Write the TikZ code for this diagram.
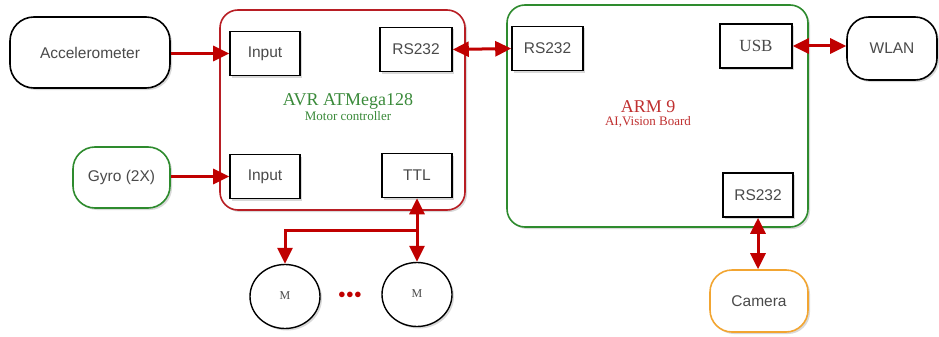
\documentclass[tikz,border=0pt]{standalone}
\usepackage{fontspec}
\setmainfont{Liberation Serif}
\newfontfamily\arialf{Liberation Sans}
\usetikzlibrary{arrows.meta,shadows,shapes.geometric}
\definecolor{conred}{HTML}{C00000}
\definecolor{avrred}{HTML}{B81E24}
\definecolor{boxgreen}{HTML}{2E8B2E}
\definecolor{txtgreen}{HTML}{3A8A3A}
\definecolor{armred}{HTML}{C03030}
\definecolor{camorange}{HTML}{F2A531}
\definecolor{txtgray}{HTML}{4A4A4A}
\tikzset{
  shadowed/.style={drop shadow={shadow xshift=2pt,shadow yshift=-2pt,fill=black!25,opacity=.6}},
  term/.style={draw,line width=1.6pt,rounded corners=24pt,fill=white,shadowed,
    font=\arialf\fontsize{15.5}{17}\selectfont,text=txtgray,inner sep=0pt},
  board/.style={draw,line width=1.6pt,rounded corners=18pt,fill=white,shadowed,inner sep=0pt},
  port/.style={draw=black,line width=1.6pt,fill=white,shadowed,minimum width=70pt,minimum height=44pt,
    inner sep=0pt,font=\arialf\fontsize{15.5}{17}\selectfont,text=txtgray},
  motor/.style={ellipse,draw=black,line width=1.4pt,fill=white,shadowed,minimum width=70pt,minimum height=64pt,
    inner sep=0pt,font=\fontsize{12}{14}\selectfont,text=txtgray},
  link/.style={draw=conred,line width=3pt,-{Triangle[length=16pt,width=15pt]}},
  dlink/.style={draw=conred,line width=3pt,{Triangle[length=16pt,width=15pt]}-{Triangle[length=16pt,width=15pt]}},
}
\begin{document}
\begin{tikzpicture}[x=1pt,y=-1pt]
\useasboundingbox (0,0) rectangle (939,337);
% boards
\node[board,draw=avrred,minimum width=245pt,minimum height=200pt] (avr) at (342.5,110) {};
\node[board,draw=boxgreen,minimum width=301pt,minimum height=222pt] (arm) at (657.5,116) {};
\node[text=txtgreen,align=center,inner sep=0pt] (avrt) at (348,107)
  {{\fontsize{18}{20}\selectfont AVR ATMega128}\\[1pt]{\fontsize{13}{14}\selectfont Motor controller}};
\node[text=armred,align=center,inner sep=0pt] (armt) at (648,114)
  {{\fontsize{18}{20}\selectfont ARM 9}\\[1pt]{\fontsize{13}{14}\selectfont AI,Vision Board}};
% terminals
\node[term,draw=black,minimum width=160pt,minimum height=71pt] (acc) at (90,52.5) {Accelerometer};
\node[term,draw=boxgreen,minimum width=97pt,minimum height=61pt,rounded corners=22pt] (gyro) at (121.5,177.5) {Gyro (2X)};
\node[term,draw=black,minimum width=90pt,minimum height=63pt,rounded corners=22pt] (wlan) at (892,48.5) {WLAN};
\node[term,draw=camorange,minimum width=98pt,minimum height=62pt,rounded corners=22pt] (cam) at (759,301) {Camera};
% ports
\node[port] (in1) at (265,53.5) {Input};
\node[port] (in2) at (265,176.5) {Input};
\node[port,minimum width=72pt] (rsa) at (416,49.5) {RS232};
\node[port] (ttl) at (417,175.5) {TTL};
\node[port,minimum width=71pt] (rsb) at (547.5,48.5) {RS232};
\node[port,minimum width=72pt,font=\fontsize{17}{19}\selectfont] (usb) at (756,46) {USB};
\node[port] (rsc) at (758,195) {RS232};
% motors
\node[motor] (m1) at (285,296.5) {\raisebox{2pt}{M}};
\node[motor] (m2) at (417,294.5) {\raisebox{2pt}{M}};
\node[text=conred,font=\bfseries\fontsize{14}{14}\selectfont,inner sep=0pt] (dots) at (350,295) {$\bullet\!\bullet\!\bullet$};
% connectors
\draw[link] (acc.east |- in1.west) -- (in1.west);
\draw[link] (gyro.east |- in2.west) -- (in2.west);
\draw[dlink] (rsa.east) -- (rsb.west);
\draw[dlink] (usb.east) -- (wlan.west |- usb.east);
\draw[dlink] (rsc.south) -- (cam.north -| rsc.south);
\draw[dlink] (ttl.south) -- (m2.north -| ttl.south);
\coordinate (br) at (417,230);
\draw[link] (br) -| (m1.north);
\end{tikzpicture}
\end{document}
